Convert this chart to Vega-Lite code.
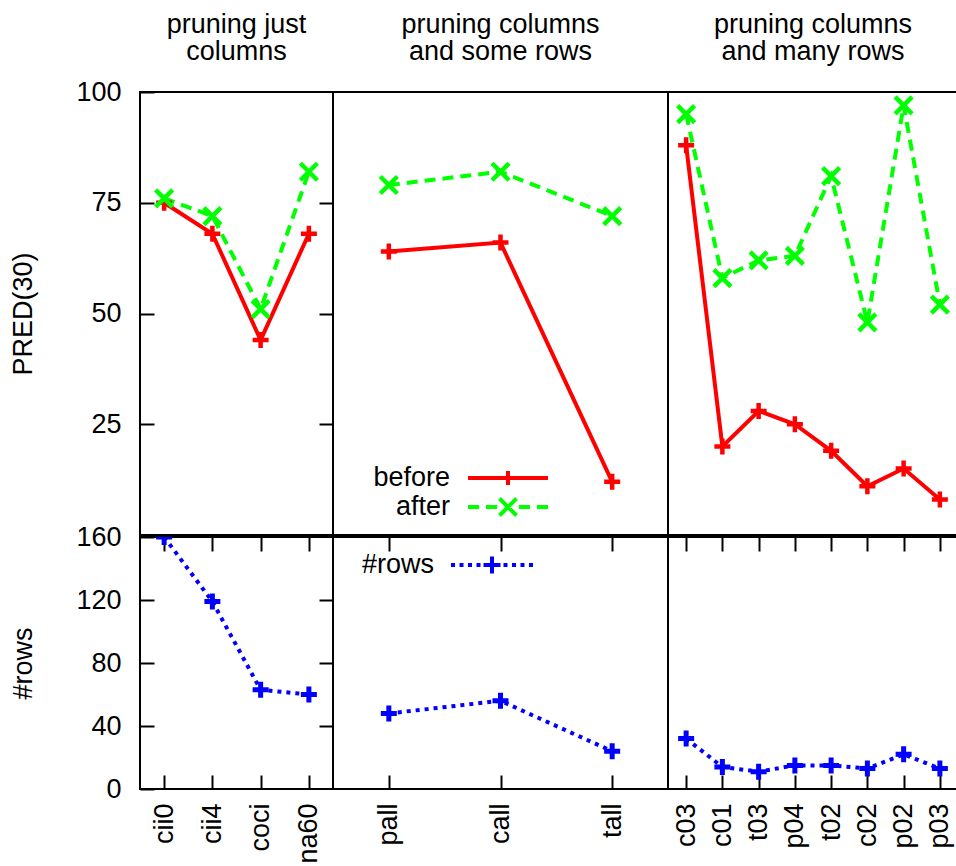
{
  "$schema": "https://vega.github.io/schema/vega-lite/v6.json",
  "padding": {"left": 8, "top": 9, "right": 0, "bottom": 0},
  "background": "white",
  "datasets": {
    "pred": [
      {"panel": "just", "ds": "cii0", "series": "before", "value": 75},
      {"panel": "just", "ds": "cii4", "series": "before", "value": 68},
      {"panel": "just", "ds": "coci", "series": "before", "value": 44},
      {"panel": "just", "ds": "na60", "series": "before", "value": 68},
      {"panel": "just", "ds": "cii0", "series": "after", "value": 76},
      {"panel": "just", "ds": "cii4", "series": "after", "value": 72},
      {"panel": "just", "ds": "coci", "series": "after", "value": 51},
      {"panel": "just", "ds": "na60", "series": "after", "value": 82},
      {"panel": "some", "ds": "pall", "series": "before", "value": 64},
      {"panel": "some", "ds": "call", "series": "before", "value": 66},
      {"panel": "some", "ds": "tall", "series": "before", "value": 12},
      {"panel": "some", "ds": "pall", "series": "after", "value": 79},
      {"panel": "some", "ds": "call", "series": "after", "value": 82},
      {"panel": "some", "ds": "tall", "series": "after", "value": 72},
      {"panel": "many", "ds": "c03", "series": "before", "value": 88},
      {"panel": "many", "ds": "c01", "series": "before", "value": 20},
      {"panel": "many", "ds": "t03", "series": "before", "value": 28},
      {"panel": "many", "ds": "p04", "series": "before", "value": 25},
      {"panel": "many", "ds": "t02", "series": "before", "value": 19},
      {"panel": "many", "ds": "c02", "series": "before", "value": 11},
      {"panel": "many", "ds": "p02", "series": "before", "value": 15},
      {"panel": "many", "ds": "p03", "series": "before", "value": 8},
      {"panel": "many", "ds": "c03", "series": "after", "value": 95},
      {"panel": "many", "ds": "c01", "series": "after", "value": 58},
      {"panel": "many", "ds": "t03", "series": "after", "value": 62},
      {"panel": "many", "ds": "p04", "series": "after", "value": 63},
      {"panel": "many", "ds": "t02", "series": "after", "value": 81},
      {"panel": "many", "ds": "c02", "series": "after", "value": 48},
      {"panel": "many", "ds": "p02", "series": "after", "value": 97},
      {"panel": "many", "ds": "p03", "series": "after", "value": 52}
    ],
    "rows": [
      {"panel": "just", "ds": "cii0", "n": 160},
      {"panel": "just", "ds": "cii4", "n": 119},
      {"panel": "just", "ds": "coci", "n": 63},
      {"panel": "just", "ds": "na60", "n": 60},
      {"panel": "some", "ds": "pall", "n": 48},
      {"panel": "some", "ds": "call", "n": 56},
      {"panel": "some", "ds": "tall", "n": 24},
      {"panel": "many", "ds": "c03", "n": 32},
      {"panel": "many", "ds": "c01", "n": 14},
      {"panel": "many", "ds": "t03", "n": 11},
      {"panel": "many", "ds": "p04", "n": 15},
      {"panel": "many", "ds": "t02", "n": 15},
      {"panel": "many", "ds": "c02", "n": 13},
      {"panel": "many", "ds": "p02", "n": 22},
      {"panel": "many", "ds": "p03", "n": 13}
    ]
  },
  "columns": 3,
  "align": "each",
  "bounds": "flush",
  "spacing": {"row": 2, "column": 0},
  "concat": [
    {
      "width": 193, "height": 443,
      "title": {"text": ["pruning just", "columns"], "offset": 12},
      "data": {"name": "pred"},
      "transform": [{"filter": "datum.panel == 'just'"}],
      "layer": [
        {
          "transform": [{"filter": "datum.series == 'before'"}],
          "mark": {"type": "line", "color": "#ff0000", "strokeWidth": 4},
          "encoding": {
            "x": {"field": "ds", "type": "nominal", "scale": {"type": "point", "padding": 0.5, "domain": ["cii0", "cii4", "coci", "na60"]}, "axis": null},
            "y": {"field": "value", "type": "quantitative", "scale": {"domain": [0, 100], "nice": false, "zero": false},
                  "axis": {"orient": "left", "title": "PRED(30)", "values": [25, 50, 75, 100], "tickSize": -14, "labelPadding": 33, "titlePadding": 38}}
          }
        },
        {
          "transform": [{"filter": "datum.series == 'after'"}],
          "mark": {"type": "line", "color": "#00ff00", "strokeWidth": 4, "strokeDash": [11, 7]},
          "encoding": {
            "x": {"field": "ds", "type": "nominal", "scale": {"type": "point", "padding": 0.5, "domain": ["cii0", "cii4", "coci", "na60"]}, "axis": null},
            "y": {"field": "value", "type": "quantitative", "scale": {"domain": [0, 100], "nice": false, "zero": false}, "axis": null}
          }
        },
        {
          "transform": [{"filter": "datum.series == 'before'"}],
          "mark": {"type": "point", "shape": "M-1,0H1M0,-1V1", "size": 256, "filled": false, "color": "#ff0000", "strokeWidth": 4.5, "opacity": 1},
          "encoding": {
            "x": {"field": "ds", "type": "nominal", "scale": {"type": "point", "padding": 0.5, "domain": ["cii0", "cii4", "coci", "na60"]}, "axis": null},
            "y": {"field": "value", "type": "quantitative", "scale": {"domain": [0, 100], "nice": false, "zero": false},
                  "axis": {"orient": "right", "title": null, "labels": false, "values": [25, 50, 75], "tickSize": -14}}
          }
        },
        {
          "transform": [{"filter": "datum.series == 'after'"}],
          "mark": {"type": "point", "shape": "M-1,-1L1,1M-1,1L1,-1", "size": 289, "filled": false, "color": "#00ff00", "strokeWidth": 4.5, "opacity": 1},
          "encoding": {
            "x": {"field": "ds", "type": "nominal", "scale": {"type": "point", "padding": 0.5, "domain": ["cii0", "cii4", "coci", "na60"]}, "axis": null},
            "y": {"field": "value", "type": "quantitative", "scale": {"domain": [0, 100], "nice": false, "zero": false}, "axis": null}
          }
        }
      ],
      "resolve": {"axis": {"y": "independent"}}
    },
    {
      "width": 335, "height": 443,
      "title": {"text": ["pruning columns", "and some rows"], "offset": 26},
      "data": {"name": "pred"},
      "transform": [{"filter": "datum.panel == 'some'"}],
      "layer": [
        {
          "transform": [{"filter": "datum.series == 'before'"}],
          "mark": {"type": "line", "color": "#ff0000", "strokeWidth": 4},
          "encoding": {
            "x": {"field": "ds", "type": "nominal", "scale": {"type": "point", "padding": 0.5, "domain": ["pall", "call", "tall"]}, "axis": null},
            "y": {"field": "value", "type": "quantitative", "scale": {"domain": [0, 100], "nice": false, "zero": false}, "axis": null}
          }
        },
        {
          "transform": [{"filter": "datum.series == 'after'"}],
          "mark": {"type": "line", "color": "#00ff00", "strokeWidth": 4, "strokeDash": [11, 7]},
          "encoding": {
            "x": {"field": "ds", "type": "nominal", "scale": {"type": "point", "padding": 0.5, "domain": ["pall", "call", "tall"]}, "axis": null},
            "y": {"field": "value", "type": "quantitative", "scale": {"domain": [0, 100], "nice": false, "zero": false}, "axis": null}
          }
        },
        {
          "transform": [{"filter": "datum.series == 'before'"}],
          "mark": {"type": "point", "shape": "M-1,0H1M0,-1V1", "size": 256, "filled": false, "color": "#ff0000", "strokeWidth": 4.5, "opacity": 1},
          "encoding": {
            "x": {"field": "ds", "type": "nominal", "scale": {"type": "point", "padding": 0.5, "domain": ["pall", "call", "tall"]}, "axis": null},
            "y": {"field": "value", "type": "quantitative", "scale": {"domain": [0, 100], "nice": false, "zero": false}, "axis": null}
          }
        },
        {
          "transform": [{"filter": "datum.series == 'after'"}],
          "mark": {"type": "point", "shape": "M-1,-1L1,1M-1,1L1,-1", "size": 289, "filled": false, "color": "#00ff00", "strokeWidth": 4.5, "opacity": 1},
          "encoding": {
            "x": {"field": "ds", "type": "nominal", "scale": {"type": "point", "padding": 0.5, "domain": ["pall", "call", "tall"]}, "axis": null},
            "y": {"field": "value", "type": "quantitative", "scale": {"domain": [0, 100], "nice": false, "zero": false}, "axis": null}
          }
        },
        {
          "transform": [{"filter": "false"}],
          "mark": {"type": "point", "filled": false, "strokeWidth": 4, "opacity": 1},
          "encoding": {
            "shape": {"field": "series", "type": "nominal",
                      "scale": {"domain": ["before", "after"], "range": ["M-8,0H8M0,-1.4V1.4", "M-8,0H-5.76M-4.4,0H-2.16M2.16,0H4.4M5.76,0H8M-1.7,-1.7L1.7,1.7M-1.7,1.7L1.7,-1.7"]},
                      "legend": {"orient": "none", "legendX": 161.5, "legendY": 372.5, "title": null}},
            "stroke": {"field": "series", "type": "nominal",
                       "scale": {"domain": ["before", "after"], "range": ["#ff0000", "#00ff00"]},
                       "legend": {"orient": "none", "legendX": 161.5, "legendY": 372.5, "title": null}}
          }
        }
      ]
    },
    {
      "width": 290, "height": 443,
      "title": {"text": ["pruning columns", "and many rows"], "offset": 22},
      "data": {"name": "pred"},
      "transform": [{"filter": "datum.panel == 'many'"}],
      "layer": [
        {
          "transform": [{"filter": "datum.series == 'before'"}],
          "mark": {"type": "line", "color": "#ff0000", "strokeWidth": 4},
          "encoding": {
            "x": {"field": "ds", "type": "nominal", "scale": {"type": "point", "padding": 0.5, "domain": ["c03", "c01", "t03", "p04", "t02", "c02", "p02", "p03"]}, "axis": null},
            "y": {"field": "value", "type": "quantitative", "scale": {"domain": [0, 100], "nice": false, "zero": false}, "axis": null}
          }
        },
        {
          "transform": [{"filter": "datum.series == 'after'"}],
          "mark": {"type": "line", "color": "#00ff00", "strokeWidth": 4, "strokeDash": [11, 7]},
          "encoding": {
            "x": {"field": "ds", "type": "nominal", "scale": {"type": "point", "padding": 0.5, "domain": ["c03", "c01", "t03", "p04", "t02", "c02", "p02", "p03"]}, "axis": null},
            "y": {"field": "value", "type": "quantitative", "scale": {"domain": [0, 100], "nice": false, "zero": false}, "axis": null}
          }
        },
        {
          "transform": [{"filter": "datum.series == 'before'"}],
          "mark": {"type": "point", "shape": "M-1,0H1M0,-1V1", "size": 256, "filled": false, "color": "#ff0000", "strokeWidth": 4.5, "opacity": 1},
          "encoding": {
            "x": {"field": "ds", "type": "nominal", "scale": {"type": "point", "padding": 0.5, "domain": ["c03", "c01", "t03", "p04", "t02", "c02", "p02", "p03"]}, "axis": null},
            "y": {"field": "value", "type": "quantitative", "scale": {"domain": [0, 100], "nice": false, "zero": false}, "axis": null}
          }
        },
        {
          "transform": [{"filter": "datum.series == 'after'"}],
          "mark": {"type": "point", "shape": "M-1,-1L1,1M-1,1L1,-1", "size": 289, "filled": false, "color": "#00ff00", "strokeWidth": 4.5, "opacity": 1},
          "encoding": {
            "x": {"field": "ds", "type": "nominal", "scale": {"type": "point", "padding": 0.5, "domain": ["c03", "c01", "t03", "p04", "t02", "c02", "p02", "p03"]}, "axis": null},
            "y": {"field": "value", "type": "quantitative", "scale": {"domain": [0, 100], "nice": false, "zero": false}, "axis": null}
          }
        }
      ]
    },
    {
      "width": 193, "height": 252,
      "data": {"name": "rows"},
      "transform": [{"filter": "datum.panel == 'just'"}],
      "layer": [
        {
          "mark": {"type": "line", "color": "#0000ff", "strokeWidth": 4, "strokeDash": [4, 5], "clip": true},
          "encoding": {
            "x": {"field": "ds", "type": "nominal", "scale": {"type": "point", "padding": 0.5, "domain": ["cii0", "cii4", "coci", "na60"]},
                  "axis": {"orient": "bottom", "title": null, "labelAngle": -90, "tickSize": -14, "labelPadding": 28}},
            "y": {"field": "n", "type": "quantitative", "scale": {"domain": [0, 160], "nice": false, "zero": false},
                  "axis": {"orient": "left", "title": "#rows", "values": [0, 40, 80, 120, 160], "tickSize": -14, "labelPadding": 33, "titlePadding": 38}}
          }
        },
        {
          "mark": {"type": "point", "shape": "M-1,0H1M0,-1V1", "size": 256, "filled": false, "color": "#0000ff", "strokeWidth": 5, "opacity": 1, "clip": true},
          "encoding": {
            "x": {"field": "ds", "type": "nominal", "scale": {"type": "point", "padding": 0.5, "domain": ["cii0", "cii4", "coci", "na60"]},
                  "axis": {"orient": "top", "title": null, "labels": false, "tickSize": -14}},
            "y": {"field": "n", "type": "quantitative", "scale": {"domain": [0, 160], "nice": false, "zero": false},
                  "axis": {"orient": "right", "title": null, "labels": false, "values": [40, 80, 120], "tickSize": -14}}
          }
        }
      ],
      "resolve": {"axis": {"x": "independent", "y": "independent"}}
    },
    {
      "width": 335, "height": 252,
      "data": {"name": "rows"},
      "transform": [{"filter": "datum.panel == 'some'"}],
      "layer": [
        {
          "mark": {"type": "line", "color": "#0000ff", "strokeWidth": 4, "strokeDash": [4, 5]},
          "encoding": {
            "x": {"field": "ds", "type": "nominal", "scale": {"type": "point", "padding": 0.5, "domain": ["pall", "call", "tall"]},
                  "axis": {"orient": "bottom", "title": null, "labelAngle": -90, "tickSize": -14, "labelPadding": 28}},
            "y": {"field": "n", "type": "quantitative", "scale": {"domain": [0, 160], "nice": false, "zero": false}, "axis": null}
          }
        },
        {
          "mark": {"type": "point", "shape": "M-1,0H1M0,-1V1", "size": 256, "filled": false, "color": "#0000ff", "strokeWidth": 5, "opacity": 1},
          "encoding": {
            "x": {"field": "ds", "type": "nominal", "scale": {"type": "point", "padding": 0.5, "domain": ["pall", "call", "tall"]},
                  "axis": {"orient": "top", "title": null, "labels": false, "tickSize": -14}},
            "y": {"field": "n", "type": "quantitative", "scale": {"domain": [0, 160], "nice": false, "zero": false}, "axis": null}
          }
        },
        {
          "transform": [{"filter": "false"}],
          "mark": {"type": "point", "filled": false, "strokeWidth": 4, "opacity": 1},
          "encoding": {
            "shape": {"field": "ds", "type": "nominal",
                      "scale": {"domain": ["#rows"], "range": ["M-8.2,0H-7.4M-6.5,0H-5.7M-4.8,0H-4M-3.1,0H-2.3M-1.7,0H1.7M0,-1.7V1.7M2.3,0H3.1M4,0H4.8M5.7,0H6.5M7.4,0H8.2"]},
                      "legend": {"orient": "none", "legendX": 145.5, "legendY": 14.5, "title": null}},
            "stroke": {"field": "ds", "type": "nominal",
                       "scale": {"domain": ["#rows"], "range": ["#0000ff"]},
                       "legend": {"orient": "none", "legendX": 145.5, "legendY": 14.5, "title": null}}
          }
        }
      ],
      "resolve": {"axis": {"x": "independent"}}
    },
    {
      "width": 290, "height": 252,
      "data": {"name": "rows"},
      "transform": [{"filter": "datum.panel == 'many'"}],
      "layer": [
        {
          "mark": {"type": "line", "color": "#0000ff", "strokeWidth": 4, "strokeDash": [4, 5]},
          "encoding": {
            "x": {"field": "ds", "type": "nominal", "scale": {"type": "point", "padding": 0.5, "domain": ["c03", "c01", "t03", "p04", "t02", "c02", "p02", "p03"]},
                  "axis": {"orient": "bottom", "title": null, "labelAngle": -90, "tickSize": -14, "labelPadding": 28}},
            "y": {"field": "n", "type": "quantitative", "scale": {"domain": [0, 160], "nice": false, "zero": false}, "axis": null}
          }
        },
        {
          "mark": {"type": "point", "shape": "M-1,0H1M0,-1V1", "size": 256, "filled": false, "color": "#0000ff", "strokeWidth": 5, "opacity": 1},
          "encoding": {
            "x": {"field": "ds", "type": "nominal", "scale": {"type": "point", "padding": 0.5, "domain": ["c03", "c01", "t03", "p04", "t02", "c02", "p02", "p03"]},
                  "axis": {"orient": "top", "title": null, "labels": false, "tickSize": -14}},
            "y": {"field": "n", "type": "quantitative", "scale": {"domain": [0, 160], "nice": false, "zero": false}, "axis": null}
          }
        }
      ],
      "resolve": {"axis": {"x": "independent"}}
    }
  ],
  "resolve": {
    "scale": {"shape": "independent", "stroke": "independent"},
    "legend": {"shape": "independent", "stroke": "independent"}
  },
  "config": {
    "font": "Liberation Sans",
    "view": {"stroke": "black", "strokeWidth": 2},
    "axis": {
      "grid": false, "domain": false, "labelFont": "Liberation Sans", "titleFont": "Liberation Sans",
      "labelFontSize": 27, "titleFontSize": 27, "titleFontWeight": "normal",
      "labelColor": "black", "titleColor": "black", "tickColor": "black", "tickWidth": 2,
      "labelOverlap": false, "labelFlush": false, "labelLimit": 0
    },
    "title": {"font": "Liberation Sans", "fontSize": 27, "fontWeight": "normal", "color": "black", "anchor": "middle", "lineHeight": 27, "offset": 28, "baseline": "bottom"},
    "legend": {
      "labelFont": "Liberation Sans", "labelFontSize": 27, "labelColor": "black", "labelLimit": 0,
      "labelAlign": "right", "labelOffset": -71.5, "labelBaseline": "middle",
      "symbolSize": 100, "symbolStrokeWidth": 4, "symbolFillColor": "transparent",
      "padding": 0, "rowPadding": -4, "offset": 0
    }
  }
}
